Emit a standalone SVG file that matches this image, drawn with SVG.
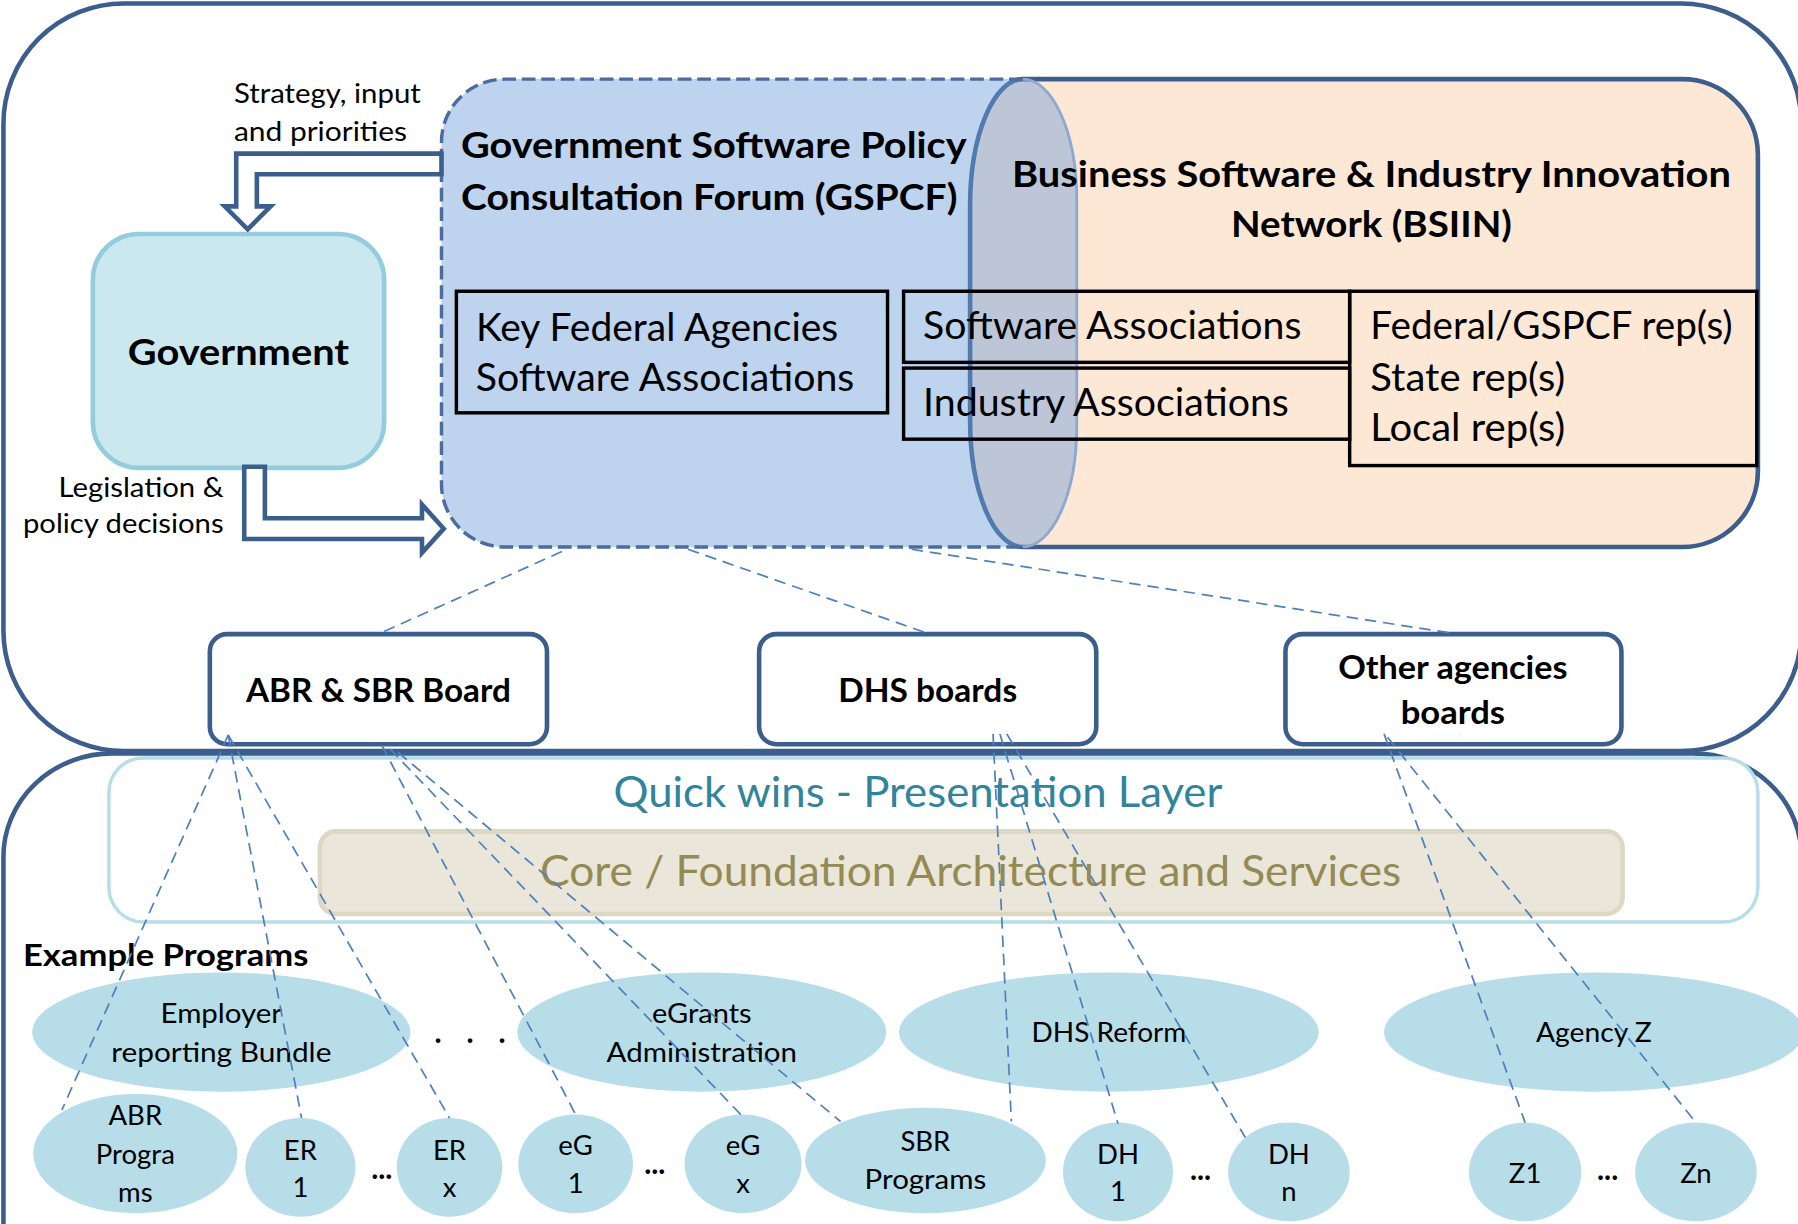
<svg xmlns="http://www.w3.org/2000/svg" width="1798" height="1224" viewBox="0 0 1798 1224">
<defs>
<style>
text{font-family:Lato,'Liberation Sans',sans-serif;fill:#000}
.b{font-weight:bold}
.m{text-anchor:middle}
.e{text-anchor:end}
.frame{fill:#fff;stroke:#3b5e8c;stroke-width:4}
.board{fill:#fff;stroke:#3b5e8c;stroke-width:4}
.box{fill:none;stroke:#000;stroke-width:3}
.ell{fill:#b7dde8}
.dl{fill:none;stroke:#4f81bd;stroke-width:1.5;stroke-dasharray:10 6}
.blk{fill:#fff;stroke:#3b5e8c;stroke-width:4;stroke-linejoin:miter}
.s24{font-size:24px}
.s23{font-size:23px}
.s34{font-size:34px}
.s31{font-size:31px}
.s28{font-size:28px}
.s36{font-size:37px}
.dots{font-size:26px;font-weight:bold}
</style>
</defs>
<rect width="1798" height="1224" fill="#fff"/>
<g transform="scale(1.1467)">
  <!-- frames -->
  <g id="lower-frame"><rect class="frame" x="3" y="657" width="1568" height="520" rx="95" ry="90"/></g>
  <g id="upper-frame"><rect class="frame" x="3" y="3" width="1568" height="652" rx="105" ry="105"/></g>

  <!-- layers -->
  <g id="quick-wins">
    <rect x="95" y="661" width="1438" height="143" rx="30" fill="#fff" stroke="#b7dde8" stroke-width="3"/>
    <text x="535" y="704" class="s36" fill="#31849b" style="fill:#31849b" textLength="531" lengthAdjust="spacingAndGlyphs">Quick wins - Presentation Layer</text>
  </g>
  <g id="core">
    <rect x="279" y="725" width="1136" height="72" rx="14" fill="#eae6d9" stroke="#ddd8c2" stroke-width="4"/>
    <text x="471" y="773" class="s36" style="fill:#948a54" textLength="751" lengthAdjust="spacingAndGlyphs">Core / Foundation Architecture and Services</text>
  </g>

  <!-- BSIIN -->
  <g id="bsiin">
    <path d="M892,69 L1467,69 A66,66 0 0 1 1533,135 L1533,411 A66,66 0 0 1 1467,477 L892,477 A46,110 0 0 1 846,367 L846,179 A46,110 0 0 1 892,69 Z" fill="#fde8d6" stroke="#3b5e8c" stroke-width="4"/>
  </g>
  <!-- GSPCF -->
  <g id="gspcf">
    <path d="M440,69 L892,69 A47,105 0 0 1 939,174 L939,372 A47,105 0 0 1 892,477 L440,477 A55,55 0 0 1 385,422 L385,124 A55,55 0 0 1 440,69 Z" fill="rgb(109,158,218)" fill-opacity="0.45"/>
    <path d="M892,69 L440,69 A55,55 0 0 0 385,124 L385,422 A55,55 0 0 0 440,477 L892,477" fill="none" stroke="#4a6d9e" stroke-width="3" stroke-dasharray="12 5"/>
    <path d="M892,69 A47,105 0 0 1 939,174 L939,372 A47,105 0 0 1 892,477" fill="none" stroke="#8ea9cf" stroke-width="2.5"/>
    <text x="402" y="138" class="b s31" textLength="441" lengthAdjust="spacingAndGlyphs">Government Software Policy</text>
    <text x="402" y="183" class="b s31" textLength="433" lengthAdjust="spacingAndGlyphs">Consultation Forum (GSPCF)</text>
  </g>
  <g id="bsiin-title">
    <text x="1196" y="163" class="b s31 m" textLength="627" lengthAdjust="spacingAndGlyphs">Business Software &amp; Industry Innovation</text>
    <text x="1196" y="207" class="b s31 m" textLength="245" lengthAdjust="spacingAndGlyphs">Network (BSIIN)</text>
  </g>

  <g id="key-federal">
    <rect class="box" x="398" y="254" width="376" height="106"/>
    <text x="415" y="297" class="s34" textLength="316" lengthAdjust="spacingAndGlyphs">Key Federal Agencies</text>
    <text x="415" y="341" class="s34" textLength="330" lengthAdjust="spacingAndGlyphs">Software Associations</text>
  </g>
  <g id="software-assoc">
    <rect class="box" x="788" y="254" width="389" height="62"/>
    <text x="805" y="296" class="s34" textLength="330" lengthAdjust="spacingAndGlyphs">Software Associations</text>
  </g>
  <g id="industry-assoc">
    <rect class="box" x="788" y="321" width="389" height="62"/>
    <text x="805" y="363" class="s34" textLength="319" lengthAdjust="spacingAndGlyphs">Industry Associations</text>
  </g>
  <g id="reps">
    <rect class="box" x="1177" y="254" width="355" height="152"/>
    <text x="1195" y="296" class="s34" textLength="316" lengthAdjust="spacingAndGlyphs">Federal/GSPCF rep(s)</text>
    <text x="1195" y="341" class="s34" textLength="170" lengthAdjust="spacingAndGlyphs">State rep(s)</text>
    <text x="1195" y="385" class="s34" textLength="170" lengthAdjust="spacingAndGlyphs">Local rep(s)</text>
  </g>

  <g id="government">
    <rect x="81" y="204" width="254" height="204" rx="40" fill="#cce8ef" stroke="#93cddd" stroke-width="4"/>
    <text x="208" y="318" class="b s31 m" textLength="193" lengthAdjust="spacingAndGlyphs">Government</text>
  </g>

  <!-- boards -->
  <g id="abr-board">
    <rect class="board" x="183" y="553" width="294" height="96" rx="15"/>
    <text x="330" y="612" class="b s28 m" textLength="231" lengthAdjust="spacingAndGlyphs">ABR &amp; SBR Board</text>
  </g>
  <g id="dhs-board">
    <rect class="board" x="662" y="553" width="294" height="96" rx="15"/>
    <text x="809" y="612" class="b s28 m" textLength="156" lengthAdjust="spacingAndGlyphs">DHS boards</text>
  </g>
  <g id="other-board">
    <rect class="board" x="1121" y="553" width="293" height="96" rx="15"/>
    <text x="1267" y="592" class="b s28 m" textLength="200" lengthAdjust="spacingAndGlyphs">Other agencies</text>
    <text x="1267" y="631" class="b s28 m" textLength="91" lengthAdjust="spacingAndGlyphs">boards</text>
  </g>

  <text x="20" y="842" class="b" style="font-size:27px" textLength="249" lengthAdjust="spacingAndGlyphs">Example Programs</text>

  <!-- program ellipses -->
  <g id="employer">
    <ellipse class="ell" cx="193" cy="900" rx="165" ry="52"/>
    <text x="193" y="892" class="s23 m" textLength="106" lengthAdjust="spacingAndGlyphs">Employer</text>
    <text x="193" y="926" class="s23 m" textLength="192" lengthAdjust="spacingAndGlyphs">reporting Bundle</text>
  </g>
  <text x="410" y="910" class="dots m" textLength="62" lengthAdjust="spacing">. . .</text>
  <g id="egrants">
    <ellipse class="ell" cx="612" cy="900" rx="161" ry="52"/>
    <text x="612" y="892" class="s23 m" textLength="87" lengthAdjust="spacingAndGlyphs">eGrants</text>
    <text x="612" y="926" class="s23 m" textLength="166" lengthAdjust="spacingAndGlyphs">Administration</text>
  </g>
  <g id="dhs-reform">
    <ellipse class="ell" cx="967" cy="900" rx="183" ry="52"/>
    <text x="967" y="909" class="s23 m" textLength="135" lengthAdjust="spacingAndGlyphs">DHS Reform</text>
  </g>
  <g id="agency-z">
    <ellipse class="ell" cx="1390" cy="900" rx="183" ry="52"/>
    <text x="1390" y="909" class="s23 m" textLength="101" lengthAdjust="spacingAndGlyphs">Agency Z</text>
  </g>

  <g id="abr-programs">
    <ellipse class="ell" cx="118" cy="1006" rx="89" ry="52"/>
    <text x="118" y="981" class="s24 m">ABR</text>
    <text x="118" y="1015" class="s24 m">Progra</text>
    <text x="118" y="1048" class="s24 m">ms</text>
  </g>
  <g id="er1">
    <ellipse class="ell" cx="262" cy="1018" rx="48" ry="43"/>
    <text x="262" y="1012" class="s24 m">ER</text>
    <text x="262" y="1044" class="s24 m">1</text>
  </g>
  <text x="333" y="1028" class="dots m">...</text>
  <g id="erx">
    <ellipse class="ell" cx="392" cy="1018" rx="46" ry="43"/>
    <text x="392" y="1012" class="s24 m">ER</text>
    <text x="392" y="1044" class="s24 m">x</text>
  </g>
  <g id="eg1">
    <ellipse class="ell" cx="502" cy="1015" rx="50" ry="43"/>
    <text x="502" y="1007" class="s24 m">eG</text>
    <text x="502" y="1040" class="s24 m">1</text>
  </g>
  <text x="571" y="1024" class="dots m">...</text>
  <g id="egx">
    <ellipse class="ell" cx="648" cy="1015" rx="51" ry="43"/>
    <text x="648" y="1007" class="s24 m">eG</text>
    <text x="648" y="1040" class="s24 m">x</text>
  </g>
  <g id="sbr-programs">
    <ellipse class="ell" cx="807" cy="1012" rx="105" ry="46"/>
    <text x="807" y="1004" class="s24 m">SBR</text>
    <text x="807" y="1037" class="s24 m" textLength="106" lengthAdjust="spacingAndGlyphs">Programs</text>
  </g>
  <g id="dh1">
    <ellipse class="ell" cx="975" cy="1022" rx="48" ry="43"/>
    <text x="975" y="1015" class="s24 m">DH</text>
    <text x="975" y="1047" class="s24 m">1</text>
  </g>
  <text x="1047" y="1029" class="dots m">...</text>
  <g id="dhn">
    <ellipse class="ell" cx="1124" cy="1022" rx="53" ry="43"/>
    <text x="1124" y="1015" class="s24 m">DH</text>
    <text x="1124" y="1047" class="s24 m">n</text>
  </g>
  <g id="z1">
    <ellipse class="ell" cx="1330" cy="1022" rx="49" ry="43"/>
    <text x="1330" y="1032" class="s24 m">Z1</text>
  </g>
  <text x="1402" y="1029" class="dots m">...</text>
  <g id="zn">
    <ellipse class="ell" cx="1479" cy="1022" rx="53" ry="43"/>
    <text x="1479" y="1032" class="s24 m">Zn</text>
  </g>

  <!-- connectors -->
  <g id="connectors">
    <path class="blk" d="M385,134 L206,134 L206,180 L196,180 L216,200 L236,180 L224,180 L224,152 L385,152 Z"/>
    <path class="blk" d="M213,407 L213,470 L368,470 L368,482 L387,461 L368,440 L368,452 L231,452 L231,407 Z"/>
    <text x="204" y="90" class="s24" textLength="163" lengthAdjust="spacingAndGlyphs">Strategy, input</text>
    <text x="204" y="123" class="s24" textLength="151" lengthAdjust="spacingAndGlyphs">and priorities</text>
    <text x="195" y="433" class="s24 e" textLength="144" lengthAdjust="spacingAndGlyphs">Legislation &amp;</text>
    <text x="195" y="465" class="s24 e" textLength="175" lengthAdjust="spacingAndGlyphs">policy decisions</text>

    <line class="dl" x1="490" y1="481" x2="332" y2="552"/>
    <line class="dl" x1="600" y1="479" x2="808" y2="552"/>
    <line class="dl" x1="795" y1="479" x2="1265" y2="552"/>

    <line class="dl" x1="199" y1="641" x2="54" y2="968"/>
    <line class="dl" x1="199" y1="641" x2="263" y2="975"/>
    <line class="dl" x1="199" y1="641" x2="392" y2="975"/>
    <line class="dl" x1="333" y1="650" x2="502" y2="972"/>
    <line class="dl" x1="340" y1="653" x2="647" y2="973"/>
    <line class="dl" x1="347" y1="656" x2="733" y2="978"/>

    <line class="dl" x1="866" y1="640" x2="882" y2="978"/>
    <line class="dl" x1="872" y1="640" x2="975" y2="980"/>
    <line class="dl" x1="878" y1="640" x2="1086" y2="992"/>

    <line class="dl" x1="1207" y1="640" x2="1330" y2="979"/>
    <line class="dl" x1="1210" y1="643" x2="1479" y2="979"/>
  </g>
</g>
</svg>
